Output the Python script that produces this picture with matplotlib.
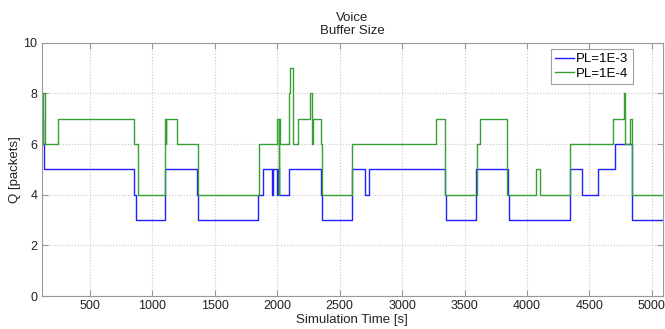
import matplotlib
matplotlib.use('Agg')
from matplotlib import pyplot as plt

plt.rcParams['font.family'] = ['Liberation Sans', 'DejaVu Sans']

# queue length over time, PL=1E-3
t_pl3 = [113, 128, 852, 869, 1098, 1103, 1355, 1362, 1843, 1889, 1956, 1969,
         2001, 2005, 2010, 2097, 2349, 2360, 2597, 2704, 2731, 3345, 3352,
         3590, 3847, 3855, 4341, 4440, 4571, 4702, 4843, 5090]
q_pl3 = [6, 5, 4, 3, 4, 5, 4, 3, 4, 5, 4, 5,
         4, 5, 4, 5, 4, 3, 5, 4, 5, 4, 3,
         5, 4, 3, 5, 4, 5, 6, 3, 3]

# queue length over time, PL=1E-4
t_pl4 = [113, 116, 121, 126, 140, 246, 852, 882, 1101, 1106, 1110, 1200,
         1368, 1852, 2001, 2010, 2014, 2021, 2097, 2104, 2124, 2167, 2263,
         2281, 2290, 2349, 2362, 2597, 3273, 3345, 3598, 3625, 3841, 4071,
         4106, 4343, 4686, 4775, 4783, 4828, 4845, 5090]
q_pl4 = [6, 7, 6, 8, 6, 7, 6, 4, 7, 6, 7, 6,
         4, 6, 7, 4, 7, 6, 8, 9, 6, 7, 8,
         6, 7, 6, 4, 6, 7, 4, 6, 7, 4, 5,
         4, 6, 7, 8, 6, 7, 4, 4]

x_ticks = list(range(500, 5001, 500))
y_ticks = [0, 2, 4, 6, 8, 10]

fig = plt.figure(figsize=(6.65, 3.29), dpi=100)
ax = fig.add_axes([0.0627, 0.1003, 0.9343, 0.770])

ax.step(t_pl3, q_pl3, where='post', color='#1f1fff', lw=1.0, label='PL=1E-3')
ax.step(t_pl4, q_pl4, where='post', color='#36a036', lw=1.0, label='PL=1E-4')

ax.set_xlim(113, 5090)
ax.set_ylim(0, 10)
ax.set_xticks(x_ticks)
ax.set_yticks(y_ticks)
ax.grid(True, linestyle=':', color='#c8c8c8', linewidth=0.8)
ax.set_axisbelow(True)

for s in ax.spines.values():
    s.set_color('#999999')
ax.tick_params(direction='in', top=True, right=True, length=4,
               color='#999999', labelsize=9, labelcolor='#222222', pad=3)

ax.set_title('Voice\nBuffer Size', fontsize=9.5, color='#222222',
             linespacing=1.2, pad=6)
ax.set_xlabel('Simulation Time [s]', fontsize=9.5, color='#222222', labelpad=1)
ax.set_ylabel('Q [packets]', fontsize=9.5, color='#222222', labelpad=2)

leg = ax.legend(loc='upper right', bbox_to_anchor=(0.951, 0.975),
                fontsize=9.5, frameon=True, fancybox=False,
                handlelength=1.4, handletextpad=0.2, borderpad=0.3,
                labelspacing=0.2, borderaxespad=0)
leg.get_frame().set_edgecolor('#888888')
leg.get_frame().set_linewidth(0.8)

fig.savefig('out.png', dpi=100)
